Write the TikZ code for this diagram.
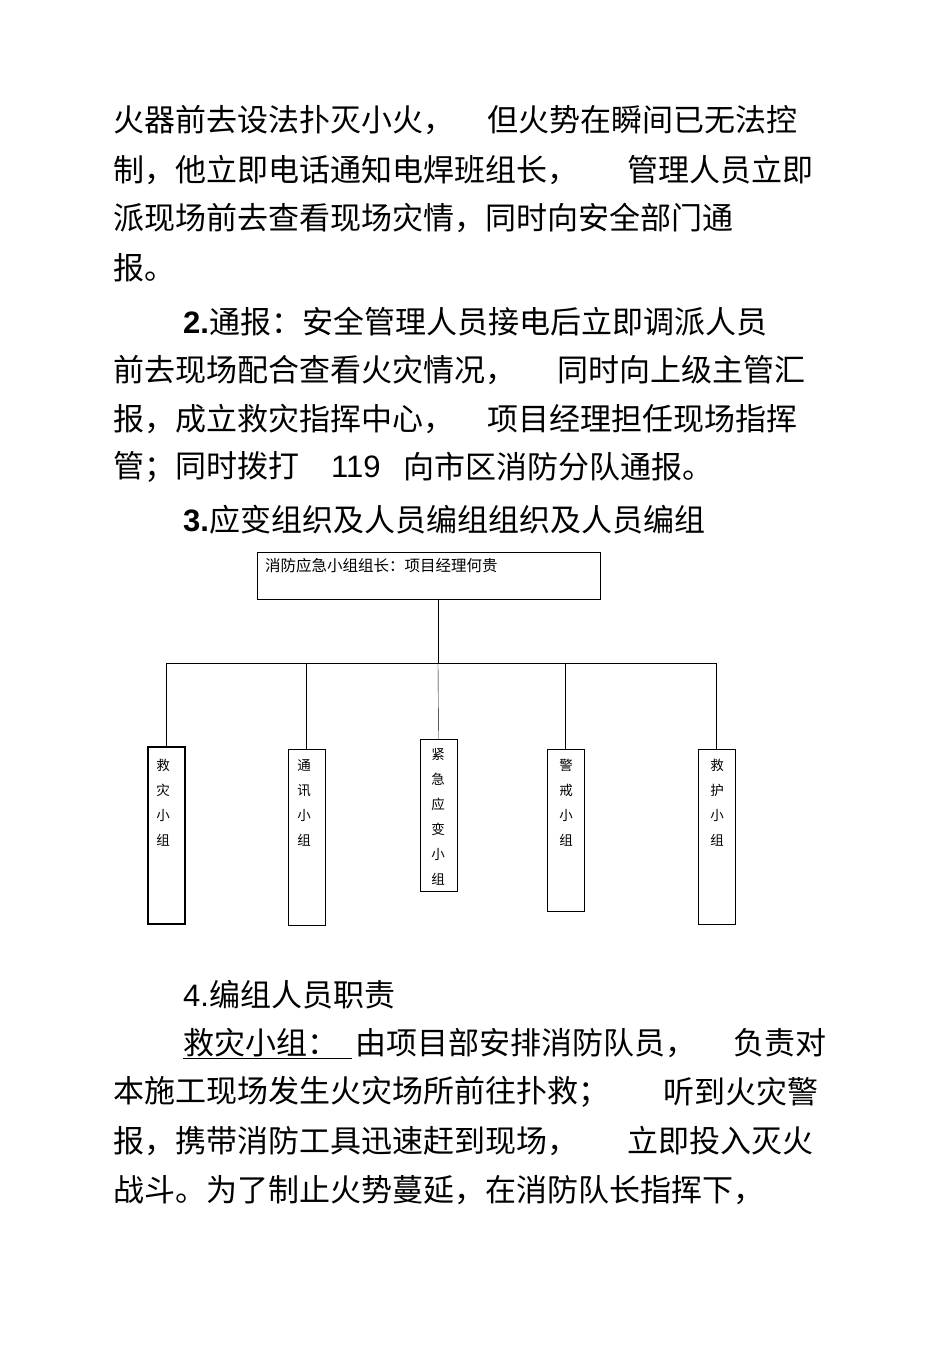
\documentclass[tikz,border=0pt]{standalone}
\usepackage{fontspec}
\setmainfont{Noto Sans CJK SC}
\newfontfamily\latinfont{Liberation Sans}
\usetikzlibrary{positioning}
\begin{document}
\begin{tikzpicture}[x=1pt,y=-1pt]
	\tikzstyle{ligne}=[anchor=west,inner sep=0pt,font=\fontsize{31}{36}\selectfont]
	\tikzstyle{boite}=[draw,thin,minimum width=37pt,inner sep=0pt]
	\tikzstyle{trait}=[thin]
	\tikzstyle{petit}=[font=\fontsize{13.5}{25}\selectfont,align=center,anchor=north]
	\useasboundingbox (0,0) rectangle (950,1345);
	% paragraph before the chart
	\node[ligne] (La) at (113,120) {火器前去设法扑灭小火，};
	\node[ligne] (Lb) at (487,120) {但火势在瞬间已无法控};
	\node[ligne] (Lc) at (113,170) {制，他立即电话通知电焊班组长，};
	\node[ligne] (Ld) at (627,170) {管理人员立即};
	\node[ligne] (Le) at (113,218) {派现场前去查看现场灾情，同时向安全部门通};
	\node[ligne] (Lf) at (113,268) {报。};
	\node[ligne] (Lg) at (183,322) {{\latinfont\bfseries 2.}通报：安全管理人员接电后立即调派人员};
	\node[ligne] (Lh) at (113,370) {前去现场配合查看火灾情况，};
	\node[ligne] (Li) at (557,370) {同时向上级主管汇};
	\node[ligne] (Lj) at (113,419) {报，成立救灾指挥中心，};
	\node[ligne] (Lk) at (487,419) {项目经理担任现场指挥};
	\node[ligne] (Ll) at (113,467) {管；同时拨打};
	\node[ligne] (Lm) at (331,467) {\latinfont 119};
	\node[ligne] (Ln) at (403,467) {向市区消防分队通报。};
	\node[ligne] (Lo) at (183,520) {{\latinfont\bfseries 3.}应变组织及人员编组组织及人员编组};
	% chart
	\node[draw,thin,minimum width=343pt,minimum height=47pt,inner sep=0pt] (chef) at (428.5,575.5) {};
	\node[anchor=west,inner sep=0pt,font=\fontsize{15.5}{18}\selectfont] (chefT) at (265,566) {消防应急小组组长：项目经理何贵};
	\node[boite,minimum height=177pt,line width=1.2pt] (g1) at (166.5,835.5) {};
	\node[boite,minimum height=176pt] (g2) at (306.5,837) {};
	\node[boite,minimum height=152pt] (g3) at (438.5,815) {};
	\node[boite,minimum height=162pt] (g4) at (565.5,830) {};
	\node[boite,minimum height=175pt] (g5) at (716.5,836.5) {};
	\node[petit] at (163,756) {救\\灾\\小\\组};
	\node[petit] at (304,756) {通\\讯\\小\\组};
	\node[petit] at (438,745) {紧\\急\\应\\变\\小\\组};
	\node[petit] at (566,756) {警\\戒\\小\\组};
	\node[petit] at (717,756) {救\\护\\小\\组};
	\coordinate (j) at (438,663);
	\draw[trait] (chef.south -| j) -- (j);
	\draw[trait] (g1.north) |- (g5.north |- j) -- (g5.north);
	\draw[trait] (g2.north) -- (g2.north |- j);
	\draw[trait] (g3.north) -- (j);
	\draw[trait] (g4.north) -- (g4.north |- j);
	% paragraph after the chart
	\node[ligne] (Lp) at (183,995) {{\latinfont 4.}编组人员职责};
	\node[ligne] (Lq) at (183,1043) {救灾小组：\,};
	\draw[thin] (183,1058) -- (352,1058);
	\node[ligne] (Lr) at (355,1043) {由项目部安排消防队员，};
	\node[ligne] (Ls) at (733,1043) {负责对};
	\node[ligne] (Lt) at (113,1092) {本施工现场发生火灾场所前往扑救；};
	\node[ligne] (Lu) at (663,1092) {听到火灾警};
	\node[ligne] (Lv) at (113,1141) {报，携带消防工具迅速赶到现场，};
	\node[ligne] (Lw) at (627,1141) {立即投入灭火};
	\node[ligne] (Lx) at (113,1190) {战斗。为了制止火势蔓延，在消防队长指挥下，};
\end{tikzpicture}
\end{document}
